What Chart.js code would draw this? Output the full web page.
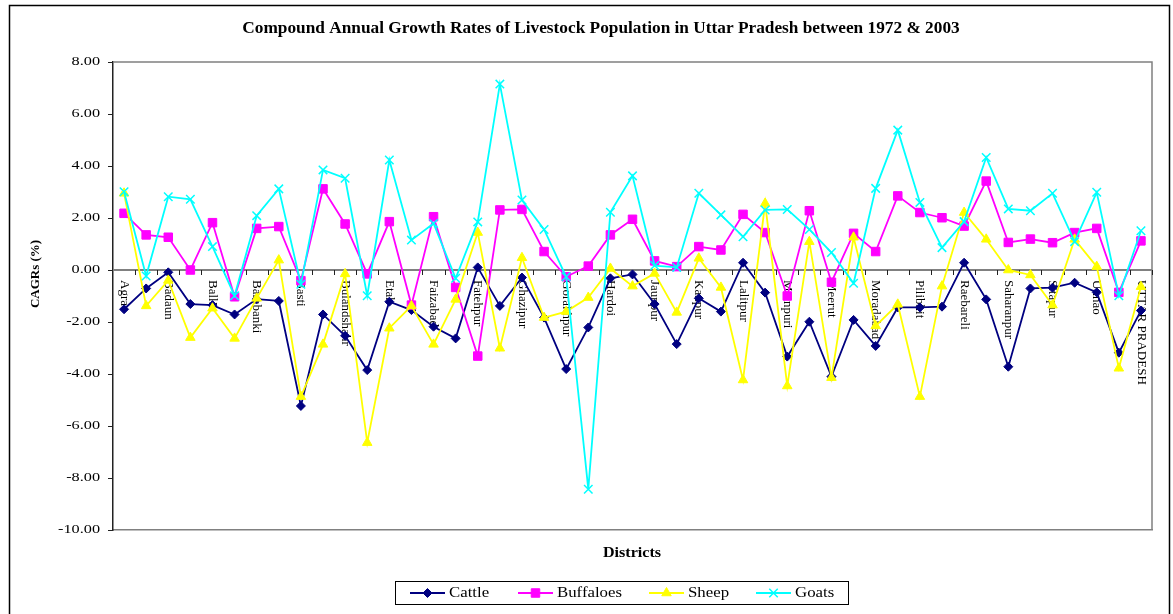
<!DOCTYPE html>
<html>
<head>
<meta charset="utf-8">
<title>CAGR of Livestock Population in Uttar Pradesh</title>
<script src="https://cdn.jsdelivr.net/npm/chart.js@4.4.0/dist/chart.umd.min.js"></script>
<style>
  html, body { margin: 0; padding: 0; background: #fff; }
  #wrap { width: 1173px; height: 614px; }
</style>
</head>
<body>
<div id="wrap"><canvas id="cagrChart" width="1173" height="614"></canvas></div>
<script>
// Districts (only every other one gets a label on the axis, like the original)
const districts = [
    'Agra', 'Aligarh', 'Badaun', 'Bahraich', 'Ballia', 'Banda', 'Barabanki', 'Bareilly',
    'Basti', 'Bijnor', 'Bulandshahr', 'Deoria', 'Etah', 'Etawah', 'Faizabad', 'Farrukhabad',
    'Fatehpur', 'Firozabad', 'Ghazipur', 'Gonda', 'Gorakhpur', 'Hamirpur', 'Hardoi', 'Jalaun',
    'Jaunpur', 'Jhansi', 'Kanpur', 'Kheri', 'Lalitpur', 'Lucknow', 'Mainpuri', 'Mathura',
    'Meerut', 'Mirzapur', 'Moradabad', 'Muzaffarnagar', 'Pilibhit', 'Pratapgarh', 'Raebareli', 'Rampur',
    'Saharanpur', 'Shahjahanpur', 'Sitapur', 'Sultanpur', 'Unnao', 'Varanasi', 'UTTAR PRADESH'
];

const cattle = [
    -1.51, -0.71, -0.09, -1.31, -1.35, -1.71, -1.12, -1.19, -5.23, -1.71,
    -2.53, -3.85, -1.22, -1.54, -2.18, -2.63, 0.10, -1.38, -0.29, -1.83,
    -3.81, -2.21, -0.32, -0.17, -1.31, -2.85, -1.09, -1.60, 0.28, -0.87,
    -3.33, -1.99, -4.10, -1.92, -2.92, -1.44, -1.44, -1.41, 0.28, -1.13,
    -3.72, -0.71, -0.68, -0.49, -0.86, -3.18, -1.56
];

const buffaloes = [
    2.18, 1.35, 1.26, 0.00, 1.82, -1.03, 1.60, 1.67, -0.41, 3.12,
    1.77, -0.15, 1.86, -1.35, 2.05, -0.67, -3.31, 2.31, 2.33, 0.71,
    -0.26, 0.15, 1.35, 1.95, 0.35, 0.13, 0.90, 0.77, 2.14, 1.44,
    -1.00, 2.28, -0.47, 1.41, 0.71, 2.85, 2.21, 2.01, 1.69, 3.42,
    1.06, 1.19, 1.05, 1.44, 1.60, -0.86, 1.12
];

const sheep = [
    2.95, -1.38, -0.40, -2.60, -1.47, -2.63, -1.09, 0.38, -4.87, -2.86,
    -0.15, -6.64, -2.24, -1.38, -2.86, -1.13, 1.44, -3.01, 0.47, -1.83,
    -1.60, -1.06, 0.06, -0.62, -0.13, -1.63, 0.45, -0.67, -4.23, 2.56,
    -4.46, 1.09, -4.14, 1.26, -2.15, -1.32, -4.87, -0.62, 2.21, 1.18,
    0.00, -0.19, -1.35, 1.18, 0.13, -3.78, -0.64
];

const goats = [
    3.01, -0.23, 2.82, 2.72, 0.90, -0.99, 2.09, 3.12, -0.55, 3.85,
    3.53, -0.99, 4.23, 1.15, 1.79, -0.32, 1.85, 7.15, 2.69, 1.56,
    -0.26, -8.43, 2.22, 3.62, 0.17, 0.10, 2.95, 2.12, 1.28, 2.31,
    2.33, 1.56, 0.67, -0.51, 3.14, 5.38, 2.60, 0.86, 1.86, 4.33,
    2.35, 2.28, 2.95, 1.09, 2.99, -0.99, 1.51
];

// y axis: -10.00 ... 8.00 every 2
const yMin = -10;
const yMax = 8;
const yStep = 2;

const chartTitle = 'Compound Annual Growth Rates of Livestock Population in Uttar Pradesh between 1972 & 2003';
const yTitle = 'CAGRs (%)';
const xTitle = 'Districts';

const SERIF = '"Liberation Serif", "Times New Roman", serif';

// series look: colour, marker, marker radius
const seriesStyle = [
    { label: 'Cattle', data: cattle, color: '#000080', marker: 'rectRot', radius: 4.5, order: 3 },
    { label: 'Buffaloes', data: buffaloes, color: '#FF00FF', marker: 'rect', radius: 6, order: 2 },
    { label: 'Sheep', data: sheep, color: '#FFFF00', marker: 'triangle', radius: 5.5, order: 1 },
    { label: 'Goats', data: goats, color: '#00FFFF', marker: 'crossRot', radius: 6, order: 0 }
];

// text stretched sideways, the original's fonts are a bit wide
function wideText(ctx, text, x, y, align, sx) {
    ctx.save();
    ctx.translate(x, y);
    ctx.scale(sx, 1);
    ctx.textAlign = align;
    ctx.fillText(text, 0, 0);
    ctx.restore();
}

function drawMarker(ctx, style, x, y) {
    ctx.fillStyle = style.color;
    ctx.strokeStyle = style.color;
    ctx.lineWidth = style.marker === 'crossRot' ? 1.5 : 1;
    if (Chart.helpers && Chart.helpers.drawPoint) {
        Chart.helpers.drawPoint(ctx, {
            pointStyle: style.marker,
            radius: style.radius,
            rotation: 0,
            borderWidth: ctx.lineWidth
        }, x, y);
    } else {
        ctx.fillRect(x - 4, y - 4, 8, 8);
    }
}

const chartDecor = {
    id: 'chartDecor',
    beforeDatasetsDraw(chart) {
        const { ctx, chartArea: area, scales: { x, y } } = chart;
        const y0 = y.getPixelForValue(0);
        const step = x.getPixelForValue(1) - x.getPixelForValue(0);

        ctx.save();
        // plot area frame, top and right
        ctx.strokeStyle = '#808080';
        ctx.lineWidth = 1.5;
        ctx.beginPath();
        ctx.moveTo(area.left, area.top);
        ctx.lineTo(area.right, area.top);
        ctx.lineTo(area.right, area.bottom);
        ctx.stroke();

        // category axis crosses at 0
        ctx.lineWidth = 2;
        ctx.beginPath();
        ctx.moveTo(area.left, y0);
        ctx.lineTo(area.right, y0);
        ctx.stroke();

        // tick marks between categories
        ctx.strokeStyle = '#222';
        ctx.lineWidth = 1;
        ctx.beginPath();
        districts.forEach((d, i) => {
            const px = Math.round(x.getPixelForValue(i) + step / 2) + 0.5;
            ctx.moveTo(px, y0);
            ctx.lineTo(px, y0 + 5);
        });
        ctx.stroke();

        // district names, rotated clockwise, every second one
        ctx.fillStyle = '#000';
        ctx.font = '13px ' + SERIF;
        ctx.textBaseline = 'middle';
        ctx.textAlign = 'left';
        districts.forEach((d, i) => {
            if (i % 2) return;
            ctx.save();
            ctx.translate(x.getPixelForValue(i), y0 + 10);
            ctx.rotate(Math.PI / 2);
            ctx.fillText(d, 0, 0);
            ctx.restore();
        });
        ctx.restore();
    },
    afterDraw(chart) {
        const { ctx, scales: { y } } = chart;
        ctx.save();

        // outer frame
        ctx.strokeStyle = '#000';
        ctx.lineWidth = 1.5;
        ctx.strokeRect(9.5, 5.5, 1160, 660);

        ctx.fillStyle = '#000';
        ctx.textBaseline = 'middle';

        // title
        ctx.font = 'bold 16px ' + SERIF;
        wideText(ctx, chartTitle, 601, 29, 'center', 1.08);

        // y tick labels
        ctx.font = '13px ' + SERIF;
        y.ticks.forEach(t => {
            wideText(ctx, t.value.toFixed(2), 100, y.getPixelForValue(t.value), 'right', 1.25);
        });

        // y axis title
        ctx.save();
        ctx.translate(36, 274);
        ctx.rotate(-Math.PI / 2);
        ctx.font = 'bold 13px ' + SERIF;
        ctx.textAlign = 'center';
        ctx.fillText(yTitle, 0, 0);
        ctx.restore();

        // x axis title
        ctx.font = 'bold 14px ' + SERIF;
        wideText(ctx, xTitle, 632, 553, 'center', 1.15);

        // legend
        ctx.strokeStyle = '#000';
        ctx.lineWidth = 1;
        ctx.strokeRect(395.5, 581.5, 453, 23);
        const legendX = [410, 518, 649, 756];
        const ly = 593;
        seriesStyle.forEach((s, i) => {
            const lx = legendX[i];
            ctx.strokeStyle = s.color;
            ctx.lineWidth = 2;
            ctx.beginPath();
            ctx.moveTo(lx, ly);
            ctx.lineTo(lx + 35, ly);
            ctx.stroke();
            drawMarker(ctx, s, lx + 17.5, ly);
            ctx.fillStyle = '#000';
            ctx.font = '14px ' + SERIF;
            wideText(ctx, s.label, lx + 39, ly, 'left', 1.2);
        });

        ctx.restore();
    }
};

new Chart(document.getElementById('cagrChart'), {
    type: 'line',
    data: {
        labels: districts,
        datasets: seriesStyle.map(s => ({
            label: s.label,
            data: s.data,
            order: s.order,
            borderColor: s.color,
            backgroundColor: s.color,
            borderWidth: 1.8,
            tension: 0,
            fill: false,
            pointStyle: s.marker,
            pointRadius: s.radius,
            pointHoverRadius: s.radius,
            pointBorderColor: s.color,
            pointBackgroundColor: s.color,
            pointBorderWidth: s.marker === 'crossRot' ? 1.5 : 1
        }))
    },
    options: {
        responsive: false,
        animation: false,
        devicePixelRatio: 1,
        layout: {
            padding: { top: 62, right: 21, bottom: 84, left: 0 }
        },
        plugins: {
            legend: { display: false },
            title: { display: false },
            tooltip: { enabled: true }
        },
        scales: {
            x: {
                type: 'category',
                offset: true,
                grid: { display: false },
                ticks: { display: false },
                border: { display: true, color: '#808080', width: 1.5 },
                afterFit: (scale) => { scale.height = 0; }
            },
            y: {
                min: yMin,
                max: yMax,
                ticks: { display: false, stepSize: yStep },
                grid: {
                    drawOnChartArea: false,
                    drawTicks: true,
                    tickLength: 5,
                    color: '#222'
                },
                border: { display: true, color: '#222', width: 1.5 },
                afterFit: (scale) => { scale.width = 113; }
            }
        }
    },
    plugins: [chartDecor]
});
</script>
</body>
</html>
